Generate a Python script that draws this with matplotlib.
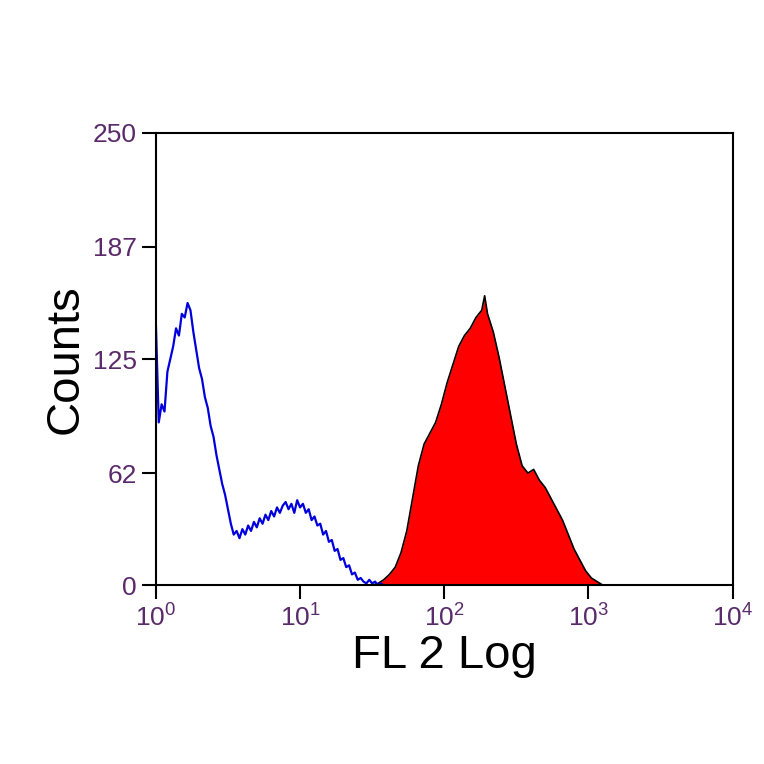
import numpy as np
import matplotlib.pyplot as plt

plt.rcParams["font.family"] = ["Liberation Sans", "DejaVu Sans"]

# blue (control) histogram, log10 of channel vs counts
blue_logx = [0.00, 0.02, 0.04, 0.06, 0.08, 0.10, 0.12, 0.14, 0.16, 0.18, 0.20, 0.22, 0.24, 0.26,
             0.28, 0.30, 0.32, 0.34, 0.36, 0.38, 0.40, 0.42, 0.44, 0.46, 0.48, 0.50, 0.52, 0.54,
             0.56, 0.58, 0.60, 0.62, 0.64, 0.66, 0.68, 0.70, 0.72, 0.74, 0.76, 0.78, 0.80, 0.82,
             0.84, 0.86, 0.88, 0.90, 0.92, 0.94, 0.96, 0.98, 1.00, 1.02, 1.04, 1.06, 1.08, 1.10,
             1.12, 1.14, 1.16, 1.18, 1.20, 1.22, 1.24, 1.26, 1.28, 1.30, 1.32, 1.34, 1.36, 1.38,
             1.40, 1.42, 1.44, 1.46, 1.48, 1.50, 1.52, 1.54, 1.56, 1.58, 1.60]
blue_counts = [145, 90, 100, 96, 118, 125, 132, 142, 138, 150, 148, 156, 152, 140, 130, 120, 114,
               104, 98, 88, 82, 72, 64, 56, 50, 42, 34, 28, 30, 26, 31, 28, 33, 30, 35, 32, 37, 34,
               39, 36, 41, 38, 43, 40, 44, 46, 42, 45, 40, 47, 43, 45, 40, 42, 36, 38, 33, 34, 28,
               30, 24, 25, 19, 20, 14, 15, 10, 11, 6, 7, 3, 4, 2, 1, 3, 1, 2, 0, 1, 0, 0]

# red (stained) histogram
red_logx = [1.50, 1.54, 1.58, 1.62, 1.66, 1.70, 1.74, 1.78, 1.82, 1.86, 1.90, 1.94, 1.98, 2.02,
            2.06, 2.10, 2.14, 2.18, 2.22, 2.26, 2.28, 2.30, 2.34, 2.38, 2.42, 2.46, 2.50, 2.54,
            2.58, 2.62, 2.66, 2.70, 2.74, 2.78, 2.82, 2.86, 2.90, 2.94, 2.98, 3.02, 3.06, 3.10]
red_counts = [0, 1, 3, 6, 10, 18, 30, 48, 66, 78, 84, 90, 100, 112, 122, 132, 138, 142, 148, 152,
              160, 150, 140, 126, 110, 94, 78, 66, 62, 64, 58, 54, 48, 42, 36, 28, 20, 14, 8, 4, 2, 0]

y_ticks = [0, 62, 125, 187, 250]

fig, ax = plt.subplots(figsize=(7.64, 7.64), dpi=100)
fig.subplots_adjust(left=0.204, right=0.959, bottom=0.234, top=0.826)

rx = 10 ** np.array(red_logx)
bx = 10 ** np.array(blue_logx)
ax.fill_between(rx, red_counts, color="#ff0000", linewidth=0)
ax.plot(rx, red_counts, color="black", linewidth=1.2)
ax.plot(bx, blue_counts, color="#0000dd", linewidth=1.6)

ax.set_xscale("log")
ax.set_xlim(1, 1e4)
ax.set_ylim(0, 250)
ax.minorticks_off()
ax.set_xticks([1, 10, 100, 1000, 10000])
ax.set_xticklabels([r"$\mathregular{10^{0}}$", r"$\mathregular{10^{1}}$", r"$\mathregular{10^{2}}$",
                    r"$\mathregular{10^{3}}$", r"$\mathregular{10^{4}}$"])
ax.set_yticks(y_ticks)
ax.set_yticklabels([str(v) for v in y_ticks])
for lab in ax.get_xticklabels() + ax.get_yticklabels():
    lab.set_color("#5a2a6a")
ax.tick_params(axis="both", labelsize=19, length=10, width=1.5, direction="out")
for s in ax.spines.values():
    s.set_linewidth(1.5)
ax.set_xlabel("FL 2 Log", fontsize=34, labelpad=2)
ax.set_ylabel("Counts", fontsize=34, labelpad=4)

fig.savefig("out.png", dpi=100)
